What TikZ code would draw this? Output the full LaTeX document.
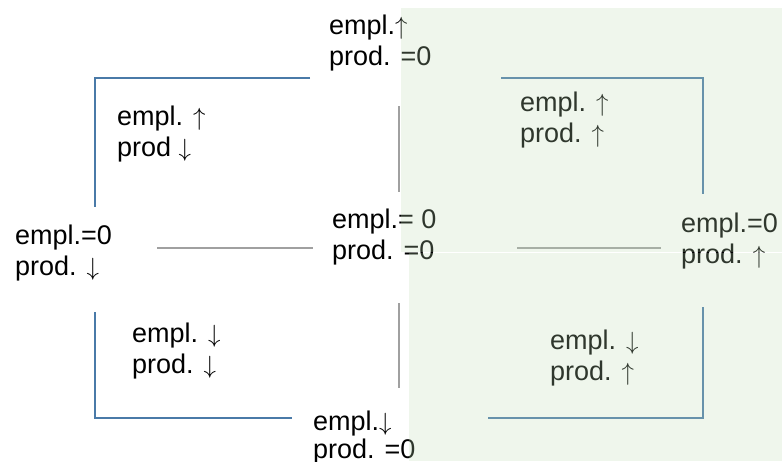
\documentclass[tikz,border=0pt]{standalone}
\usepackage{fontspec}
\setmainfont{Liberation Sans}
\definecolor{frameblue}{RGB}{74,122,168}
\definecolor{axisgray}{RGB}{160,160,160}
\definecolor{zonegreen}{RGB}{190,220,180}
% tall thin arrows
\newcommand{\upar}{$\uparrow$}
\newcommand{\dnar}{$\downarrow$}
\begin{document}
\begin{tikzpicture}[x=1pt,y=-1pt,
  lab/.style={anchor=base west, align=left, inner sep=0pt, text=black,
              font=\fontsize{27}{31}\selectfont},
  bracket/.style={draw=frameblue, line width=2pt},
  axis/.style={draw=axisgray, line width=1.5pt},
  zone/.style={fill=zonegreen, fill opacity=0.25, draw=none}]
\useasboundingbox (0,0) rectangle (782,461);

% corner brackets
\coordinate (tl1) at (310,78);  \coordinate (tl2) at (95,78);  \coordinate (tl3) at (95,207);
\coordinate (tr1) at (501,78);  \coordinate (tr2) at (703,78); \coordinate (tr3) at (703,194);
\coordinate (bl1) at (95,312);  \coordinate (bl2) at (95,418); \coordinate (bl3) at (292,418);
\coordinate (br1) at (488,418); \coordinate (br2) at (703,418);\coordinate (br3) at (703,307);
\draw[bracket] (tl1) -- (tl2) -- (tl3);
\draw[bracket] (tr1) -- (tr2) -- (tr3);
\draw[bracket] (bl1) -- (bl2) -- (bl3);
\draw[bracket] (br1) -- (br2) -- (br3);

% axes through the centre
\coordinate (hl1) at (157,248); \coordinate (hl2) at (313,248);
\coordinate (hr1) at (517,248); \coordinate (hr2) at (661,248);
\coordinate (vt1) at (399,106); \coordinate (vt2) at (399,192);
\coordinate (vb1) at (399,303); \coordinate (vb2) at (399,388);
\draw[axis] (hl1) -- (hl2);
\draw[axis] (hr1) -- (hr2);
\draw[axis] (vt1) -- (vt2);
\draw[axis] (vb1) -- (vb2);

% labels (anchored at the baseline of their second line)
\node[lab] (ntl) at (117,156) {empl. \upar\\prod \dnar};
\node[lab] (ntop) at (329,65) {empl.\upar\\prod. =0};
\node[lab] (ntr) at (520,142) {empl. \upar\\prod. \upar};
\node[lab] (nleft) at (15,275) {empl.=0\\prod. \dnar};
\node[lab] (nmid) at (332,259) {empl.= 0\\prod. =0};
\node[lab] (nright) at (681,263) {empl.=0\\prod. \upar};
\node[lab] (nbl) at (132,373) {empl. \dnar\\prod. \dnar};
\node[lab] (nbr) at (550,380) {empl. \dnar\\prod. \upar};
\node[lab, font=\fontsize{27}{28}\selectfont] (nbot) at (313,458) {empl.\dnar\\prod. =0};

% shaded region over the right half
\path[zone] (401,8) rectangle (782,251.5);
\path[zone] (409,252.8) rectangle (782,461);
\end{tikzpicture}
\end{document}
